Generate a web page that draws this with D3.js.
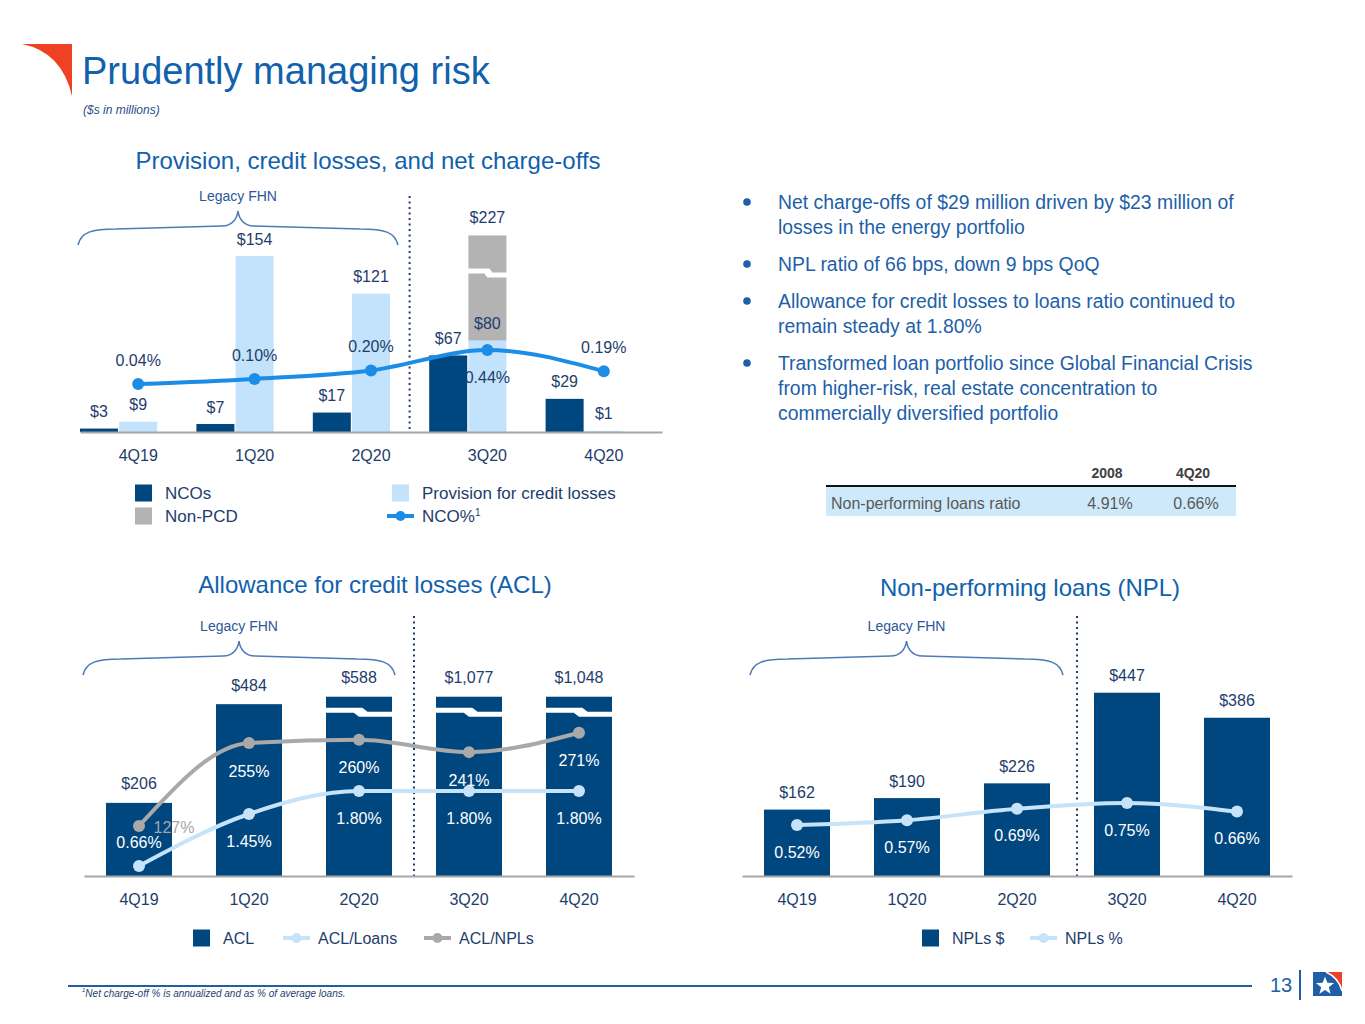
<!DOCTYPE html>
<html><head><meta charset="utf-8">
<script src="https://cdn.jsdelivr.net/npm/d3@7"></script>
<style>body{margin:0;background:#fff}svg{display:block;font-family:"Liberation Sans",Arial,sans-serif}</style>
</head><body><svg id="c" width="1365" height="1024"></svg>
<script>
// ---------- DATA ----------
const quarters = ['4Q19', '1Q20', '2Q20', '3Q20', '4Q20'];
// Provision, credit losses, and net charge-offs
const ncoValues = [3, 7, 17, 67, 29];
const provisionValues = [9, 154, 121, 80, 1];
const nonPcdValues = [0, 0, 0, 147, 0];
const ncoPctValues = [0.04, 0.10, 0.20, 0.44, 0.19];
// Allowance for credit losses
const aclValues = [206, 484, 588, 1077, 1048];
const aclLoansPct = [0.66, 1.45, 1.80, 1.80, 1.80];
const aclNplsPct = [127, 255, 260, 241, 271];
// Non-performing loans
const nplValues = [162, 190, 226, 447, 386];
const nplPct = [0.52, 0.57, 0.69, 0.75, 0.66];
// Table
const tableHeaders = ['2008', '4Q20'];
const tableRowLabel = 'Non-performing loans ratio';
const tableRowValues = ['4.91%', '0.66%'];
// Bullets
const bullets = [
  ['Net charge-offs of $29 million driven by $23 million of', 'losses in the energy portfolio'],
  ['NPL ratio of 66 bps, down 9 bps QoQ'],
  ['Allowance for credit losses to loans ratio continued to', 'remain steady at 1.80%'],
  ['Transformed loan portfolio since Global Financial Crisis', 'from higher-risk, real estate concentration to', 'commercially diversified portfolio']
];

// ---------- STYLE ----------
const C = {navy:'#00467f', light:'#c3e2fb', gray:'#b3b3b3', bright:'#1b8de6', label:'#1e3d6c',
  title:'#1161ad', axis:'#a6a6a6', brace:'#4e7bb6', lineLight:'#c6e3f9', lineGray:'#a9a9a9'};
const svg = d3.select('#c');
const fmtD = d => '$' + d3.format(',')(d);
const fmtP = d => d.toFixed(2) + '%';

function text(g, x, y, s, o = {}) {
  const t = g.append('text').attr('x', x).attr('y', y)
    .attr('dy', o.dy === undefined ? '0.35em' : o.dy)
    .attr('text-anchor', o.anchor || 'middle')
    .attr('font-size', o.size || 16).attr('fill', o.fill || C.label);
  if (o.weight) t.attr('font-weight', o.weight);
  if (o.style) t.attr('font-style', o.style);
  t.text(s);
  return t;
}
function brace(g, x0, x1, yTop, yEnd) {
  const m = (x0 + x1) / 2, yMid = yEnd - 16;
  const d = `M${x0},${yEnd} C${x0+3},${yMid+3} ${x0+14},${yMid} ${x0+38},${yMid}` +
    ` L${m-16},${yMid-3} C${m-6},${yMid-3} ${m-1},${yTop+8} ${m},${yTop}` +
    ` C${m+1},${yTop+8} ${m+6},${yMid-3} ${m+16},${yMid-3}` +
    ` L${x1-38},${yMid} C${x1-14},${yMid} ${x1-3},${yMid+3} ${x1},${yEnd}`;
  g.append('path').attr('d', d).attr('fill', 'none').attr('stroke', C.brace).attr('stroke-width', 1.6);
  text(g, m, yTop - 15, 'Legacy FHN', {size: 14, fill: '#2b5797'});
}
function breakMark(g, L, w, y) {
  const pts = [[L-1,y],[L+0.55*w,y],[L+0.63*w,y+4],[L+w+1,y+4],[L+w+1,y+9],[L+0.5*w,y+9],[L+0.42*w,y+5],[L-1,y+5]];
  g.append('polygon').attr('points', pts.map(p => p.join(',')).join(' ')).attr('fill', '#fff');
}
function dotted(g, x, y0, y1) {
  g.append('line').attr('x1', x).attr('x2', x).attr('y1', y0).attr('y2', y1)
    .attr('stroke', C.label).attr('stroke-width', 2).attr('stroke-dasharray', '2,3.5');
}
function axis(g, x, y) {
  const a = g.append('g').attr('transform', `translate(0,${y})`)
    .call(d3.axisBottom(x).tickSize(0).tickSizeOuter(0));
  a.select('.domain').attr('stroke', C.axis).attr('stroke-width', 2);
  a.selectAll('text').attr('y', 23).attr('dy', '0.35em').attr('font-size', 16)
    .attr('fill', C.label).attr('font-family', '"Liberation Sans", Arial, sans-serif');
}
function curveLine(g, data, xf, yf, color) {
  g.append('path').datum(data).attr('fill', 'none').attr('stroke', color).attr('stroke-width', 4)
    .attr('d', d3.line().x((d, i) => xf(i)).y(d => yf(d)).curve(d3.curveMonotoneX));
  g.selectAll(null).data(data).enter().append('circle')
    .attr('cx', (d, i) => xf(i)).attr('cy', d => yf(d)).attr('r', 6).attr('fill', color);
}
function legendSquare(g, x, y, color, label, size) {
  g.append('rect').attr('x', x).attr('y', y - 8.5).attr('width', 17).attr('height', 17).attr('fill', color);
  text(g, x + 30, y, label, {anchor: 'start', size: size || 16});
}
function legendLine(g, x, y, color, label, size) {
  g.append('line').attr('x1', x).attr('x2', x + 27).attr('y1', y).attr('y2', y).attr('stroke', color).attr('stroke-width', 4);
  g.append('circle').attr('cx', x + 13.5).attr('cy', y).attr('r', 5).attr('fill', color);
  return text(g, x + 35, y, label, {anchor: 'start', size: size || 16});
}

// ---------- HEADER ----------
svg.append('path').attr('d', 'M22,44 L72,44 L72,96 Q62,52 22,44 Z').attr('fill', '#ef4123');
text(svg, 82, 84, 'Prudently managing risk', {anchor: 'start', size: 38, fill: C.title, dy: 0});
text(svg, 83, 110, '($s in millions)', {anchor: 'start', size: 12, fill: '#1f4e8c', style: 'italic'});

// ---------- CHART 1 ----------
const g1 = svg.append('g');
text(g1, 368, 161, 'Provision, credit losses, and net charge-offs', {size: 24, fill: C.title});
const x1 = d3.scaleBand().domain(quarters).range([80, 662]);
const s1 = d3.scaleBand().domain(['nco', 'prov', 'gap']).range([0, x1.bandwidth()]).paddingInner(0.03);
const y1 = d3.scaleLinear().domain([0, 200]).range([432, 203.4]);
const cap1 = 172;
const p1 = d3.scaleLinear().domain([0, 0.5]).range([387.4, 344.9]);
const c1 = i => x1(quarters[i]) + x1.bandwidth() / 2;

brace(g1, 78, 398, 211, 245);
dotted(g1, (x1('2Q20') + s1('prov') + s1.bandwidth() + x1('3Q20') + s1('nco')) / 2, 196, 432);

quarters.forEach((q, i) => {
  const xp = x1(q) + s1('prov'), bw = s1.bandwidth();
  g1.append('rect').attr('x', xp).attr('y', y1(provisionValues[i])).attr('width', bw)
    .attr('height', y1(0) - y1(provisionValues[i])).attr('fill', C.light);
  if (nonPcdValues[i] > 0) {
    const top = Math.min(provisionValues[i] + nonPcdValues[i], cap1);
    g1.append('rect').attr('x', xp).attr('y', y1(top)).attr('width', bw)
      .attr('height', y1(provisionValues[i]) - y1(top)).attr('fill', C.gray);
    breakMark(g1, xp, bw, y1(top) + 33);
    text(g1, xp + bw / 2, y1(top) - 18, fmtD(provisionValues[i] + nonPcdValues[i]));
  }
});
// NCO% labels (beneath NCO bars layer)
const ncoPctPos = ['above', 'above', 'above', 'below', 'above'];
ncoPctValues.forEach((v, i) => {
  text(g1, c1(i), p1(v) + (ncoPctPos[i] === 'above' ? -24 : 27), fmtP(v));
});
quarters.forEach((q, i) => {
  const xn = x1(q) + s1('nco'), bw = s1.bandwidth();
  g1.append('rect').attr('x', xn).attr('y', y1(ncoValues[i])).attr('width', bw)
    .attr('height', y1(0) - y1(ncoValues[i])).attr('fill', C.navy);
  text(g1, xn + bw / 2, y1(ncoValues[i]) - 17, fmtD(ncoValues[i]));
  text(g1, x1(q) + s1('prov') + bw / 2, y1(provisionValues[i]) - 17, fmtD(provisionValues[i]));
});
axis(g1, x1, 432);
curveLine(g1, ncoPctValues, c1, p1, C.bright);
legendSquare(g1, 135, 493, C.navy, 'NCOs', 17);
legendSquare(g1, 135, 516, C.gray, 'Non-PCD', 17);
legendSquare(g1, 392, 493, C.light, 'Provision for credit losses', 17);
const nl = legendLine(g1, 387, 516, C.bright, 'NCO%', 17);
nl.append('tspan').attr('font-size', 10).attr('dy', '-0.6em').text('1');

// ---------- BULLETS ----------
const gb = svg.append('g');
let by = 202;
bullets.forEach(lines => {
  gb.append('circle').attr('cx', 747).attr('cy', by).attr('r', 3.8).attr('fill', '#1d5fa9');
  lines.forEach((l, j) => text(gb, 778, by + j * 25, l, {anchor: 'start', size: 19.4, fill: '#1d5fa9'}));
  by += lines.length * 25 + 12;
});

// ---------- TABLE ----------
const gt = svg.append('g');
const colX = [1107, 1193];
tableHeaders.forEach((h, i) => text(gt, colX[i], 473, h, {size: 14, weight: 'bold', fill: '#404040'}));
gt.append('rect').attr('x', 826).attr('y', 487).attr('width', 410).attr('height', 29).attr('fill', '#cde9fa');
gt.append('line').attr('x1', 826).attr('x2', 1236).attr('y1', 486).attr('y2', 486).attr('stroke', '#111').attr('stroke-width', 2);
text(gt, 831, 503, tableRowLabel, {anchor: 'start', size: 16, fill: '#595959'});
tableRowValues.forEach((v, i) => text(gt, colX[i] + 3, 503, v, {size: 16, fill: '#595959'}));

// ---------- CHART 2 ----------
const g2 = svg.append('g');
text(g2, 375, 585, 'Allowance for credit losses (ACL)', {size: 24, fill: C.title});
const x2 = d3.scaleBand().domain(quarters).range([84, 634]).paddingInner(0.4).paddingOuter(0.2);
const y2 = d3.scaleLinear().domain([0, 500]).range([876, 698.5]);
const cap2 = 505;
const pNpl2 = d3.scaleLinear().domain([100, 300]).range([843.5, 713.9]);
const pLoan2 = d3.scaleLinear().domain([0.5, 2.0]).range([876.5, 777.8]);
const c2 = i => x2(quarters[i]) + x2.bandwidth() / 2;
brace(g2, 83, 395, 641, 675);
dotted(g2, x2('3Q20') - (x2.step() - x2.bandwidth()) / 2, 616, 876);
aclValues.forEach((v, i) => {
  const top = Math.min(v, cap2), xb = x2(quarters[i]), bw = x2.bandwidth();
  g2.append('rect').attr('x', xb).attr('y', y2(top)).attr('width', bw).attr('height', y2(0) - y2(top)).attr('fill', C.navy);
  if (v > cap2) breakMark(g2, xb, bw, y2(top) + 11);
  text(g2, c2(i), y2(top) - 19, fmtD(v));
});
axis(g2, x2, 876);
curveLine(g2, aclNplsPct, c2, pNpl2, C.lineGray);
curveLine(g2, aclLoansPct, c2, pLoan2, C.lineLight);
aclNplsPct.forEach((v, i) => {
  if (i === 0) text(g2, c2(i) + 35, pNpl2(v) + 1, v + '%', {fill: '#a6a6a6'});
  else text(g2, c2(i), pNpl2(v) + 28, v + '%', {fill: '#fff'});
});
aclLoansPct.forEach((v, i) => {
  text(g2, c2(i), pLoan2(v) + (i === 0 ? -24 : 27), fmtP(v), {fill: '#fff'});
});
legendSquare(g2, 193, 938, C.navy, 'ACL');
legendLine(g2, 283, 938, C.lineLight, 'ACL/Loans');
legendLine(g2, 424, 938, C.lineGray, 'ACL/NPLs');

// ---------- CHART 3 ----------
const g3 = svg.append('g');
text(g3, 1030, 588, 'Non-performing loans (NPL)', {size: 24, fill: C.title});
const x3 = d3.scaleBand().domain(quarters).range([742, 1292]).paddingInner(0.4).paddingOuter(0.2);
const y3 = d3.scaleLinear().domain([0, 500]).range([876, 671]);
const p3 = d3.scaleLinear().domain([0, 1]).range([874.7, 779.1]);
const c3 = i => x3(quarters[i]) + x3.bandwidth() / 2;
brace(g3, 750, 1063, 641, 675);
dotted(g3, 1077, 616, 876);
nplValues.forEach((v, i) => {
  g3.append('rect').attr('x', x3(quarters[i])).attr('y', y3(v)).attr('width', x3.bandwidth())
    .attr('height', y3(0) - y3(v)).attr('fill', C.navy);
  text(g3, c3(i), y3(v) - 17, fmtD(v));
});
axis(g3, x3, 876);
curveLine(g3, nplPct, c3, p3, C.lineLight);
nplPct.forEach((v, i) => text(g3, c3(i), p3(v) + 27, fmtP(v), {fill: '#fff'}));
legendSquare(g3, 922, 938, C.navy, 'NPLs $');
legendLine(g3, 1030, 938, C.lineLight, 'NPLs %');

// ---------- FOOTER ----------
svg.append('line').attr('x1', 68).attr('x2', 1252).attr('y1', 986).attr('y2', 986).attr('stroke', '#1f5fa5').attr('stroke-width', 2);
const fn = text(svg, 82, 995, '', {anchor: 'start', size: 10, style: 'italic', fill: '#1f3f6e'});
fn.append('tspan').attr('font-size', 6).attr('dy', '-0.5em').text('1');
fn.append('tspan').attr('dy', '0.5em').text('Net charge-off % is annualized and as % of average loans.');
text(svg, 1281, 985, '13', {size: 20, fill: '#1f5fa5'});
svg.append('line').attr('x1', 1300).attr('x2', 1300).attr('y1', 970).attr('y2', 1000).attr('stroke', '#1f5fa5').attr('stroke-width', 2);
svg.append('rect').attr('x', 1313).attr('y', 972).attr('width', 29).attr('height', 24).attr('fill', '#1f5fa8');
svg.append('path').attr('d', 'M1326,972 H1342 V991 Q1339,978 1326,972 Z').attr('fill', '#ef4123');
svg.append('path').attr('d', 'M1326,972 Q1339,978 1342,991').attr('fill', 'none').attr('stroke', '#fff').attr('stroke-width', 1.5);
const star = d3.range(10).map(k => {
  const r = k % 2 ? 4 : 9.5, a = -Math.PI / 2 + k * Math.PI / 5;
  return [1325 + r * Math.cos(a), 986 + r * Math.sin(a)];
});
svg.append('polygon').attr('points', star.map(p => p.join(',')).join(' ')).attr('fill', '#fff');
</script></body></html>
